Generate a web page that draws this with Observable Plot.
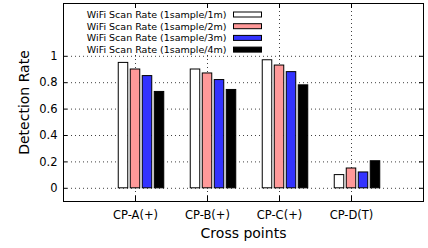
<!DOCTYPE html>
<html>
<head>
<meta charset="utf-8">
<script src="https://cdn.jsdelivr.net/npm/d3@7"></script>
<script src="https://cdn.jsdelivr.net/npm/@observablehq/plot@0.6"></script>
<style>
  html, body { margin: 0; padding: 0; background: white; }
</style>
</head>
<body>
<div id="chart"></div>
<script>
const categories = ["CP-A(+)", "CP-B(+)", "CP-C(+)", "CP-D(T)"];
const seriesNames = [
  "WiFi Scan Rate (1sample/1m)",
  "WiFi Scan Rate (1sample/2m)",
  "WiFi Scan Rate (1sample/3m)",
  "WiFi Scan Rate (1sample/4m)"
];
const rate1m = [0.95, 0.90, 0.97, 0.10];
const rate2m = [0.90, 0.87, 0.93, 0.15];
const rate3m = [0.85, 0.82, 0.88, 0.12];
const rate4m = [0.73, 0.745, 0.78, 0.205];
const seriesColors = ["#ffffff", "#ff9999", "#3333ff", "#000000"];
const yTicks = [0, 0.2, 0.4, 0.6, 0.8, 1];
const yTickLabels = ["0", "0.2", "0.4", "0.6", "0.8", "1"];

const allSeries = [rate1m, rate2m, rate3m, rate4m];
const rows = [];
categories.forEach((c, ci) => {
  allSeries.forEach((vals, si) => {
    rows.push({cat: c, ci, si, series: seriesNames[si], value: vals[ci]});
  });
});

const W = 428, H = 248;
const mL = 63, mR = 5, mT = 3, mB = 47;
const plotH = H - mT - mB;
const step = 1 / 6, bw = 0.132;

function legend(index, scales, values, dims) {
  const g = d3.create("svg:g");
  g.append("rect").attr("x", 85).attr("y", 5).attr("width", 181).attr("height", 49).attr("fill", "white");
  seriesNames.forEach((name, i) => {
    const y = 14.5 + i * 11.7;
    g.append("text").attr("x", 226.5).attr("y", y).attr("dy", "0.35em")
      .attr("text-anchor", "end").attr("font-size", 9.5).attr("fill", "black").text(name);
    g.append("rect").attr("x", 233.5).attr("y", y - 2.5).attr("width", 28).attr("height", 5)
      .attr("fill", seriesColors[i]).attr("stroke", "black").attr("stroke-width", 1);
  });
  return g.node();
}

const chart = Plot.plot({
  width: W,
  height: H,
  marginLeft: mL,
  marginRight: mR,
  marginTop: mT,
  marginBottom: mB,
  style: {fontFamily: "DejaVu Sans", fontSize: "11.5px", color: "black", background: "white"},
  x: {type: "linear", domain: [-1, 4]},
  y: {domain: [-0.1, 1.4]},
  marks: [
    Plot.gridY(yTicks, {stroke: "black", strokeOpacity: 0.75, strokeDasharray: "1,3"}),
    Plot.gridX([0, 1, 2, 3], {stroke: "black", strokeOpacity: 0.75, strokeDasharray: "1,3"}),
    legend,
    Plot.rectY(rows, {
      x1: d => d.ci + (d.si - 1) * step - bw / 2,
      x2: d => d.ci + (d.si - 1) * step + bw / 2,
      y1: 0,
      y2: "value",
      fill: d => seriesColors[d.si],
      stroke: "black",
      strokeWidth: 1
    }),
    Plot.tickX([0, 1, 2, 3], {x: d => d, insetTop: plotH - 5, stroke: "black"}),
    Plot.tickX([0, 1, 2, 3], {x: d => d, insetBottom: plotH - 5, stroke: "black"}),
    Plot.tickY(yTicks, {y: d => d, insetRight: W - mL - mR - 4, stroke: "black"}),
    Plot.tickY(yTicks, {y: d => d, insetLeft: W - mL - mR - 4, stroke: "black"}),
    Plot.frame({stroke: "black"}),
    Plot.axisY(yTicks, {tickSize: 0, tickPadding: 6, label: null, fontSize: 11.5, tickFormat: (d, i) => yTickLabels[i]}),
    Plot.axisX([0, 1, 2, 3], {tickSize: 0, tickPadding: 9, label: null, fontSize: 11.5, tickFormat: i => categories[i]}),
    Plot.text(["Detection Rate"], {frameAnchor: "left", textAnchor: "middle", lineAnchor: "bottom", dx: -35, rotate: -90, fontSize: 14, text: d => d}),
    Plot.text(["Cross points"], {frameAnchor: "bottom", dy: 36, fontSize: 14, text: d => d})
  ]
});
document.getElementById("chart").appendChild(chart);
</script>
</body>
</html>
